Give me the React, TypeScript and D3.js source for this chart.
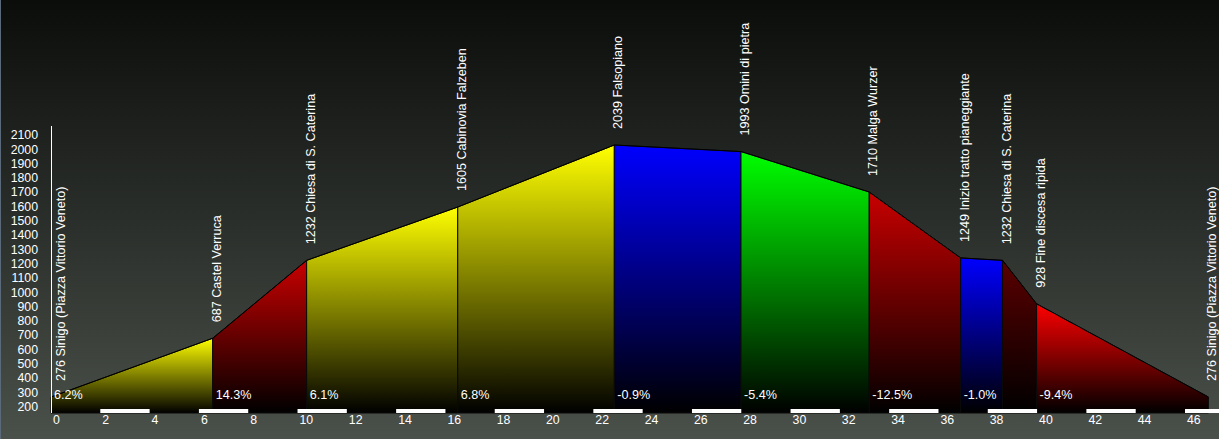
import React from "react";
import * as d3 from "d3";

const distances = [0, 6.56, 10.37, 16.5, 22.85, 27.99, 33.19, 36.9, 38.6, 39.98, 46.95];
const elevations = [276, 687, 1232, 1605, 2039, 1993, 1710, 1249, 1232, 928, 276];
const placeNames = [
  "Sinigo (Piazza Vittorio Veneto)",
  "Castel Verruca",
  "Chiesa di S. Caterina",
  "Cabinovia Falzeben",
  "Falsopiano",
  "Omini di pietra",
  "Malga Wurzer",
  "Inizio tratto pianeggiante",
  "Chiesa di S. Caterina",
  "Fine discesa ripida",
  "Sinigo (Piazza Vittorio Veneto)",
];
const gradeLabels = ["6.2%", "14.3%", "6.1%", "6.8%", "-0.9%", "-5.4%", "-12.5%", "-1.0%", "", "-9.4%"];
const xTicks = d3.range(0, 48, 2);
const yTicks = d3.range(200, 2101, 100);
const barStarts = d3.range(2, 48, 4);

const W = 1219;
const H = 439;
const FONT = "'Liberation Sans', Arial, sans-serif";

function gradeColor(g: number): string {
  const a = Math.abs(g);
  if (a < 2) return "#0000ff";
  if (a < 6) return "#00ff00";
  if (a < 9) return "#ffff00";
  if (a < 12) return "#ff0000";
  if (a < 20) return "#c80000";
  return "#5a0000";
}

export default function App() {
  const x = d3.scaleLinear().domain([0, 46]).range([51, 1185]);
  const y = d3.scaleLinear().domain([276, 2039]).range([397, 145]);
  const base = 413;
  const axisTop = 126;

  const segs = d3.range(distances.length - 1).map((i) => {
    const g = ((elevations[i + 1] - elevations[i]) / ((distances[i + 1] - distances[i]) * 1000)) * 100;
    return { i, g, color: gradeColor(g) };
  });

  const area = d3
    .area<[number, number]>()
    .x((d) => x(d[0]))
    .y0(base)
    .y1((d) => y(d[1]));

  const line = d3
    .line<[number, number]>()
    .x((d) => x(d[0]))
    .y((d) => y(d[1]));

  return (
    <svg
      width={W}
      height={H}
      style={{ position: "absolute", left: 0, top: 0, display: "block" }}
      fontFamily={FONT}
    >
      <defs>
        <linearGradient id="bg" x1="0" y1="0" x2="0" y2="1">
          <stop offset="0" stopColor="#0b0d0b" />
          <stop offset="1" stopColor="#4a504a" />
        </linearGradient>
        {segs.map((s) => (
          <linearGradient key={s.i} id={`seg${s.i}`} x1="0" y1="0" x2="0" y2="1">
            <stop offset="0" stopColor={s.color} />
            <stop offset="1" stopColor="#000000" />
          </linearGradient>
        ))}
      </defs>
      <rect x={0} y={0} width={W} height={H} fill="url(#bg)" />
      <rect x={0} y={0} width={1} height={H} fill="#5a6a7a" />

      {segs.map((s) => {
        const pts: [number, number][] = [
          [distances[s.i], elevations[s.i]],
          [distances[s.i + 1], elevations[s.i + 1]],
        ];
        return (
          <path
            key={s.i}
            d={area(pts) || ""}
            fill={`url(#seg${s.i})`}
            stroke="#0a0a0a"
            strokeWidth={1}
          />
        );
      })}
      <path
        d={line(distances.map((d, i) => [d, elevations[i]] as [number, number])) || ""}
        fill="none"
        stroke="#000"
        strokeWidth={1}
      />

      {/* grade labels */}
      {segs.map((s) =>
        gradeLabels[s.i] ? (
          <text key={s.i} x={x(distances[s.i]) + 3} y={399} fill="#fff" fontSize={12.6}>
            {gradeLabels[s.i]}
          </text>
        ) : null
      )}

      {/* distance bars */}
      {barStarts.map((b) => (
        <rect
          key={b}
          x={x(b)}
          y={409}
          width={Math.min(x(b + 2), W) - x(b)}
          height={4}
          fill="#ffffff"
        />
      ))}

      {/* y axis */}
      <line x1={51.5} x2={51.5} y1={axisTop} y2={base} stroke="#fff" strokeWidth={1} />
      {yTicks.map((t) => (
        <text key={t} x={38} y={y(t) + 3} fill="#fff" fontSize={12.3} textAnchor="end">
          {t}
        </text>
      ))}

      {/* x axis */}
      {xTicks.map((t) => (
        <text key={t} x={x(t) + 2} y={424} fill="#fff" fontSize={12.3}>
          {t}
        </text>
      ))}

      {/* point labels */}
      {distances.map((d, i) => {
        const bx = Math.max(x(d) + 8, x(0) + 14);
        const by = y(elevations[i]) - 16;
        return (
          <text
            key={i}
            transform={`translate(${bx},${by}) rotate(-90)`}
            fill="#fff"
            fontSize={12.6}
          >
            {`${elevations[i]} ${placeNames[i]}`}
          </text>
        );
      })}
    </svg>
  );
}
